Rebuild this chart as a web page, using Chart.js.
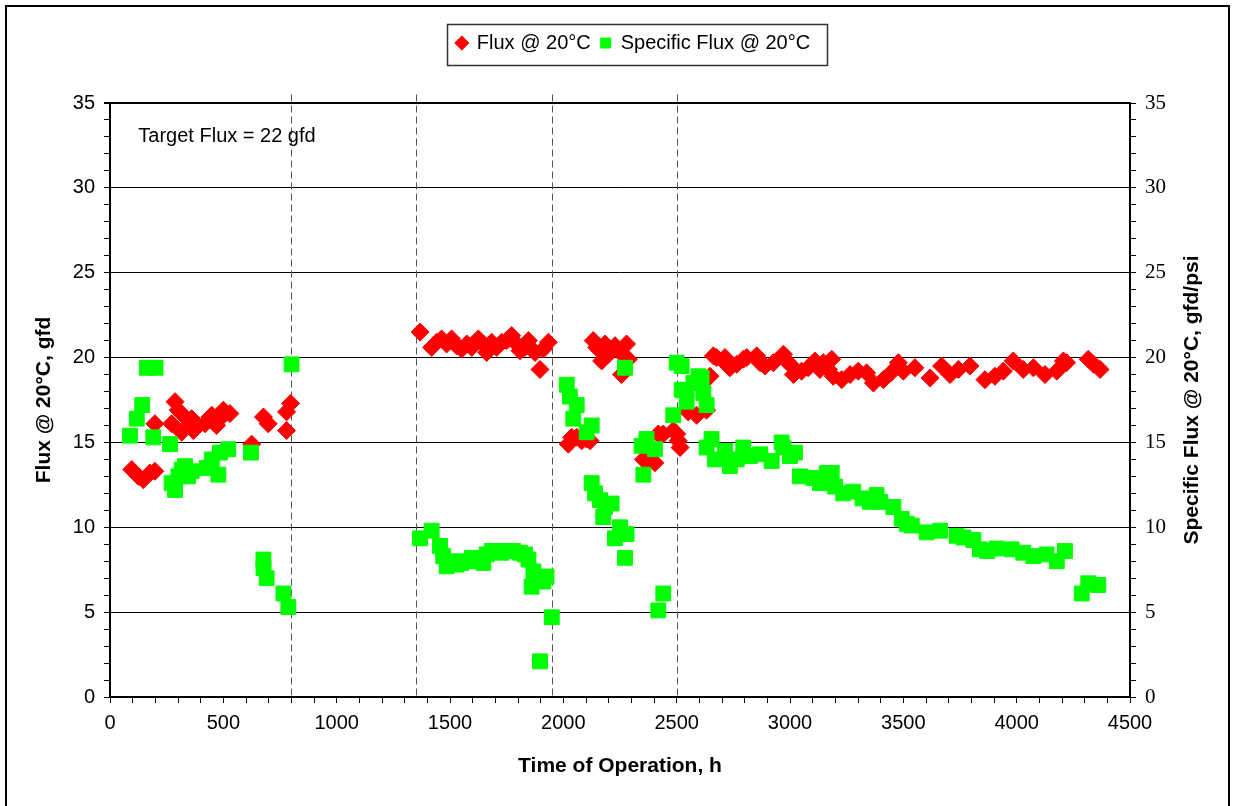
<!DOCTYPE html>
<html>
<head>
<meta charset="utf-8">
<script src="https://cdn.jsdelivr.net/npm/chart.js@4.4.0/dist/chart.umd.min.js"></script>
<style>
html,body{margin:0;padding:0;background:#fff;}
#wrap{width:1235px;height:806px;position:relative;}
</style>
</head>
<body>
<div id="wrap"><canvas id="c"></canvas></div>
<script>
// ---- data ----
const fluxHours = [96,125,147,176,198,198,272,287,301,316,323,345,360,368,419,441,449,470,485,500,529,625,677,698,779,779,797,
  1368,1419,1441,1463,1485,1507,1529,1551,1574,1596,1625,1647,1662,1684,1706,1728,1750,1772,1794,1809,1831,1846,1860,1875,1897,1912,1934,
  2022,2037,2059,2081,2103,2118,2132,2147,2162,2169,2184,2199,2213,2228,2243,2257,2279,2287,2353,2375,2404,2419,2441,2485,2500,2507,2515,
  2551,2588,2632,2647,2662,2676,2713,2720,2735,2765,2794,2809,2853,2868,2890,2927,2971,2985,3000,3015,3051,3080,3110,3132,3147,3170,3184,3191,
  3228,3265,3301,3338,3368,3412,3445,3478,3500,3551,3618,3669,3706,3743,3794,3860,3904,3941,3985,4029,4074,4125,4177,4206,4220,4316,4340,4368];
const fluxValues = [13.4,13.0,12.8,13.2,13.3,16.1,16.1,17.4,16.9,15.6,16.6,16.3,16.4,15.7,16.1,16.5,16.6,16.0,16.4,16.9,16.7,14.9,16.5,16.1,15.7,16.8,17.3,
  21.5,20.6,20.9,21.1,20.8,21.1,20.7,20.5,20.8,20.6,21.1,20.8,20.3,20.9,20.6,20.9,21.0,21.3,20.8,20.4,20.6,21.0,20.5,20.3,19.3,20.5,20.9,
  14.9,15.3,15.3,15.1,15.2,15.1,21.0,20.6,20.4,19.8,20.8,20.2,20.4,20.7,20.4,19.0,20.8,19.9,14.0,13.8,13.8,15.5,15.5,15.7,15.5,15.1,14.7,
  16.8,16.6,16.9,18.9,20.1,20.0,20.0,19.6,19.4,19.6,19.9,20.0,20.1,19.7,19.5,19.7,20.2,19.8,19.6,19.0,19.2,19.4,19.8,19.3,19.7,19.3,19.9,18.9,
  18.7,19.0,19.2,19.1,18.5,18.7,19.1,19.7,19.2,19.4,18.8,19.5,19.0,19.3,19.5,18.7,18.9,19.2,19.8,19.3,19.4,19.0,19.2,19.8,19.7,19.9,19.6,19.3];

const specHours = [88,118,142,162,201,191,265,272,287,302,316,331,345,360,426,449,478,485,522,622,677,677,691,765,787,801,
  1368,1419,1456,1470,1485,1507,1529,1551,1574,1596,1618,1647,1662,1684,1706,1728,1750,1779,1809,1831,1846,1860,1868,1897,1912,1926,1949,
  2015,2029,2044,2059,2103,2125,2125,2140,2162,2176,2184,2213,2228,2250,2272,2279,2272,2345,2353,2367,2404,2419,2441,2485,2500,2522,
  2522,2544,2544,2574,2596,2610,2618,2632,2654,2632,2669,2713,2735,2765,2794,2824,2868,2919,2963,2971,3000,3022,3044,3103,3132,3162,3184,3199,
  3235,3279,3320,3353,3382,3397,3456,3493,3515,3537,3603,3662,3735,3765,3809,3838,3870,3912,3978,4029,4074,4132,4177,4213,4287,4316,4360];
const specValues = [15.4,16.4,17.2,19.4,19.4,15.3,14.9,12.6,12.2,13.0,13.4,13.6,13.0,13.3,13.5,14.0,13.1,14.4,14.6,14.4,8.1,7.6,7.0,6.1,5.3,19.6,
  9.35,9.8,8.9,8.3,7.7,8.0,7.8,7.9,8.0,8.2,8.0,7.9,8.4,8.6,8.6,8.5,8.6,8.6,8.5,8.4,8.1,6.5,7.4,2.1,6.8,7.1,4.7,
  18.4,17.7,16.4,17.2,15.6,16.0,12.6,12.0,11.6,10.6,11.2,11.4,9.35,10.0,8.2,9.6,19.4,14.8,13.1,15.2,14.6,5.1,6.1,16.6,19.7,19.5,
  18.1,18.1,17.4,18.5,18.9,18.8,17.9,17.2,15.2,14.7,14.0,14.5,13.6,14.0,14.7,14.2,14.3,13.9,15.0,14.7,14.2,14.4,13.0,12.9,12.6,13.2,13.2,12.4,
  12.0,12.1,11.7,11.5,11.9,11.5,11.2,10.5,10.2,10.1,9.7,9.8,9.5,9.4,9.25,8.7,8.6,8.75,8.7,8.5,8.3,8.4,8.0,8.6,6.1,6.7,6.6];

const phaseBoundaries = [800, 1350, 1950, 2500];
const seriesLabels = ['Flux @ 20°C', 'Specific Flux @ 20°C'];
const xTitle = 'Time of Operation, h';
const yTitle = 'Flux @ 20°C, gfd';
const y2Title = 'Specific Flux @ 20°C, gfd/psi';
const noteText = 'Target Flux = 22 gfd';
const noteAt = [125, 32.7];

Chart.defaults.font.family = "'Liberation Sans', Arial, sans-serif";
Chart.defaults.color = '#000';

const decor = {
  id: 'decor',
  beforeLayout(chart) {
    const lg = chart.legend;
    if (lg && !lg._wrappedFit) {
      const f = lg.fit;
      lg.fit = function () { f.call(this); this.height = 80; };
      lg._wrappedFit = true;
    }
  },
  afterLayout(chart) {
    const lg = chart.legend;
    if (lg) { lg.left += 16; lg.right += 16; }
  },
  beforeDraw(chart) {
    const ctx = chart.ctx;
    ctx.save();
    ctx.fillStyle = '#fff';
    ctx.fillRect(0, 0, chart.width, chart.height);
    ctx.strokeStyle = '#000';
    ctx.lineWidth = 2;
    ctx.strokeRect(6, 6, chart.width - 12, chart.height + 10);
    ctx.restore();
  },
  beforeDatasetsDraw(chart) {
    const ctx = chart.ctx, xs = chart.scales.x, ys = chart.scales.y;
    ctx.save();
    ctx.strokeStyle = '#555';
    ctx.lineWidth = 1;
    ctx.setLineDash([7, 4]);
    phaseBoundaries.forEach(v => {
      const px = Math.round(xs.getPixelForValue(v)) + 0.5;
      ctx.beginPath();
      ctx.moveTo(px, ys.getPixelForValue(35.5));
      ctx.lineTo(px, ys.getPixelForValue(0));
      ctx.stroke();
    });
    ctx.restore();
  },
  afterDraw(chart) {
    const ctx = chart.ctx, xs = chart.scales.x, ys = chart.scales.y, ca = chart.chartArea;
    ctx.save();
    // legend frame
    const hb = chart.legend.legendHitBoxes;
    if (hb && hb.length) {
      const l = hb[0].left - 10;
      const last = hb[hb.length - 1];
      const r = last.left + last.width + 17;
      const t = hb[0].top - 9;
      const b = hb[0].top + hb[0].height + 12;
      ctx.strokeStyle = '#333';
      ctx.lineWidth = 1.5;
      ctx.strokeRect(Math.round(l) + 0.5, Math.round(t) + 0.5, Math.round(r - l), Math.round(b - t));
    }
    // note text
    ctx.fillStyle = '#000';
    ctx.font = "20px 'Liberation Sans', Arial, sans-serif";
    ctx.textBaseline = 'alphabetic';
    ctx.textAlign = 'left';
    ctx.fillText(noteText, xs.getPixelForValue(noteAt[0]), ys.getPixelForValue(noteAt[1]));
    // right axis title (reads bottom to top)
    ctx.translate(1192, (ca.top + ca.bottom) / 2);
    ctx.rotate(-Math.PI / 2);
    ctx.font = "bold 21px 'Liberation Sans', Arial, sans-serif";
    ctx.textAlign = 'center';
    ctx.textBaseline = 'middle';
    ctx.fillText(y2Title, 0, 0);
    ctx.restore();
  }
};

const minorCb = v => (Math.abs(v % 5) < 1e-9 ? String(v) : '');

new Chart(document.getElementById('c'), {
  type: 'scatter',
  data: {
    datasets: [
      {
        label: seriesLabels[0],
        data: fluxHours.map((h, i) => ({ x: h, y: fluxValues[i] })),
        yAxisID: 'y',
        pointStyle: 'rectRot',
        pointRadius: 9,
        backgroundColor: '#ff0000',
        borderColor: '#ff0000',
        borderWidth: 1,
        order: 1
      },
      {
        label: seriesLabels[1],
        data: specHours.map((h, i) => ({ x: h, y: specValues[i] })),
        yAxisID: 'y2',
        pointStyle: 'rect',
        pointRadius: 10.5,
        backgroundColor: '#00ff00',
        borderColor: '#00ff00',
        borderWidth: 1,
        order: 0
      }
    ]
  },
  options: {
    responsive: true,
    maintainAspectRatio: false,
    animation: false,
    events: [],
    layout: { padding: { top: 23, left: 0, right: 0, bottom: 0 } },
    plugins: {
      tooltip: { enabled: false },
      legend: {
        position: 'top',
        labels: {
          usePointStyle: true,
          boxWidth: 10,
          boxHeight: 10,
          padding: 10,
          color: '#000',
          font: { size: 20 },
          sort: (a, b) => a.datasetIndex - b.datasetIndex
        }
      }
    },
    scales: {
      x: {
        type: 'linear',
        min: 0, max: 4500,
        afterFit: s => { s.height = 109; },
        ticks: { stepSize: 100, maxTicksLimit: 100, autoSkip: false, maxRotation: 0, padding: 8,
          font: { size: 20 }, color: '#000',
          callback: v => (v % 500 === 0 ? String(v) : '') },
        grid: { drawOnChartArea: false, drawTicks: true, tickLength: 6, color: '#000', tickColor: '#000' },
        border: { display: true, color: '#000', width: 2 },
        title: { display: true, text: xTitle, color: '#000', font: { size: 21, weight: 'bold' }, padding: { top: 0, bottom: 27 } }
      },
      y: {
        type: 'linear', position: 'left',
        min: 0, max: 35,
        afterFit: s => { s.width = 110; },
        ticks: { stepSize: 1, maxTicksLimit: 100, autoSkip: false, padding: 9, font: { size: 20 }, color: '#000', callback: minorCb },
        grid: {
          color: c => (c.tick && c.tick.value % 5 === 0 ? '#000' : 'rgba(0,0,0,0)'),
          lineWidth: c => (c.tick && c.tick.value === 35 ? 2 : 1),
          tickColor: '#000', tickLength: 6, drawTicks: true
        },
        border: { display: true, color: '#000', width: 2 },
        title: { display: true, text: yTitle, color: '#000', font: { size: 21, weight: 'bold' }, padding: { top: 32, bottom: 0 } }
      },
      y2: {
        type: 'linear', position: 'right',
        min: 0, max: 35,
        afterFit: s => { s.width = 105; },
        ticks: { stepSize: 1, maxTicksLimit: 100, autoSkip: false, padding: 9,
          font: { family: "'Liberation Serif', 'Times New Roman', serif", size: 21 }, color: '#000', callback: minorCb },
        grid: { drawOnChartArea: false, drawTicks: true, tickLength: 6, color: '#000', tickColor: '#000' },
        border: { display: true, color: '#000', width: 2 },
        title: { display: false }
      }
    }
  },
  plugins: [decor]
});
</script>
</body>
</html>
